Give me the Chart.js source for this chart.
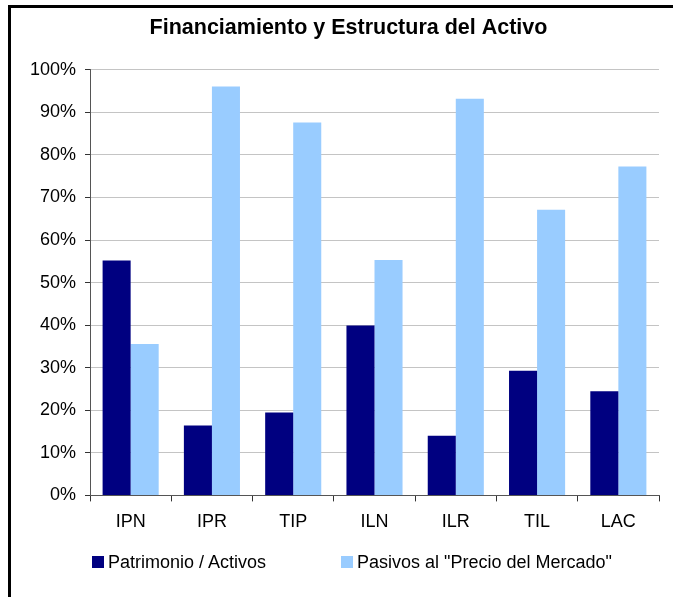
<!DOCTYPE html>
<html>
<head>
<meta charset="utf-8">
<script src="https://cdn.jsdelivr.net/npm/chart.js@4/dist/chart.umd.min.js"></script>
<style>
  html, body { margin: 0; padding: 0; background: #fff; }
  #wrap { position: relative; width: 673px; height: 597px; overflow: hidden; }
  #frameTop { position: absolute; left: 8px; top: 5px; width: 665px; height: 3px; background: #000; }
  #frameLeft { position: absolute; left: 8px; top: 5px; width: 3px; height: 592px; background: #000; }
  #legend { position: absolute; left: 0; top: 550px; width: 673px; height: 24px;
            font-family: "Liberation Sans", Arial, sans-serif; font-size: 18px; color: #000; }
  .item { position: absolute; top: 0; display: flex; align-items: center; height: 24px; white-space: nowrap; }
  .box { width: 12px; height: 12px; margin-right: 4px; }
</style>
</head>
<body>
<div id="wrap">
  <canvas id="c" width="673" height="597"></canvas>
  <div id="frameTop"></div>
  <div id="frameLeft"></div>
  <div id="legend"></div>
</div>
<script>
const chartTitle = 'Financiamiento y Estructura del Activo';
const categories = ['IPN', 'IPR', 'TIP', 'ILN', 'ILR', 'TIL', 'LAC'];
const seriesNames = ['Patrimonio / Activos', 'Pasivos al "Precio del Mercado"'];
const patrimonioActivos = [55.2, 16.4, 19.5, 39.9, 14.0, 29.3, 24.5];
const pasivosPrecioMercado = [35.6, 96.1, 87.6, 55.3, 93.2, 67.1, 77.3];
const yTickLabels = ['0%', '10%', '20%', '30%', '40%', '50%', '60%', '70%', '80%', '90%', '100%'];
const seriesColors = ['#000080', '#99CCFF'];

const FONT = '"Liberation Sans", Arial, sans-serif';

// widen the y-axis label clip area so long labels are not cut at the padding edge
const widenYLabelArea = {
  id: 'widenYLabelArea',
  afterLayout(chart) { chart.scales.y.left = 14; }
};

const chart = new Chart(document.getElementById('c'), {
  type: 'bar',
  data: {
    labels: categories,
    datasets: [
      { label: seriesNames[0], data: patrimonioActivos, backgroundColor: seriesColors[0], borderWidth: 0 },
      { label: seriesNames[1], data: pasivosPrecioMercado, backgroundColor: seriesColors[1], borderWidth: 0 }
    ]
  },
  plugins: [widenYLabelArea],
  options: {
    responsive: false,
    animation: false,
    devicePixelRatio: 1,
    layout: { padding: { left: 38, right: 14, top: 0, bottom: 54 } },
    datasets: { bar: { categoryPercentage: 0.69, barPercentage: 1.0 } },
    plugins: {
      legend: { display: false },
      tooltip: { enabled: false },
      title: {
        display: true,
        text: chartTitle,
        color: '#000',
        font: { family: FONT, size: 21.5, weight: 'bold' },
        padding: { top: 15, bottom: 29 }
      }
    },
    scales: {
      x: {
        grid: { display: true, drawOnChartArea: false, drawTicks: true, tickLength: 6, color: '#333', offset: true },
        border: { display: true, color: '#555', width: 1 },
        ticks: { color: '#000', font: { family: FONT, size: 18 }, padding: 10 }
      },
      y: {
        min: 0, max: 100,
        afterFit: (s) => { s.width = 52; },
        grid: { color: '#c4c4c4', lineWidth: 1, tickLength: 5, tickColor: '#333' },
        border: { display: true, color: '#555', width: 1 },
        ticks: {
          stepSize: 10,
          color: '#000',
          padding: 9,
          font: { family: FONT, size: 18 },
          callback: (v) => yTickLabels[Math.round(v / 10)]
        }
      }
    }
  }
});

// HTML legend built from the dataset definitions
const legend = document.getElementById('legend');
const legendLeft = [92, 341];
chart.data.datasets.forEach((ds, i) => {
  const it = document.createElement('div');
  it.className = 'item';
  it.style.left = legendLeft[i] + 'px';
  const b = document.createElement('span');
  b.className = 'box';
  b.style.background = ds.backgroundColor;
  const t = document.createElement('span');
  t.textContent = ds.label;
  it.appendChild(b); it.appendChild(t);
  legend.appendChild(it);
});
</script>
</body>
</html>
